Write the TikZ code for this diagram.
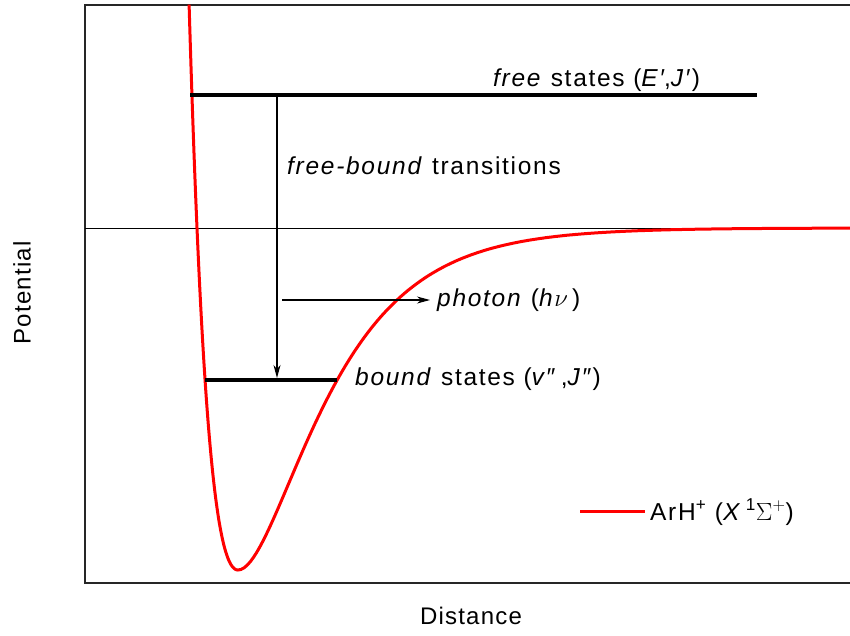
\documentclass[tikz,border=0pt]{standalone}
\usepackage{fontspec}
\setmainfont{Liberation Sans}
\usetikzlibrary{arrows.meta}
\begin{document}
\begin{tikzpicture}[x=1pt,y=-1pt,
  frame/.style={line width=1.6pt, draw=black!85},
  level/.style={line width=3.5pt},
  arr/.style={line width=1.1pt, -{Stealth[length=13pt,width=7pt,inset=4pt]}},
  curve/.style={red, line width=3pt},
  lbl/.style={font=\fontsize{24.5}{28}\addfontfeatures{LetterSpace=7}\selectfont, inner sep=0pt},
  axlbl/.style={font=\fontsize{24}{28}\addfontfeatures{LetterSpace=5}\selectfont, inner sep=0pt},
  declare function={mL(\t)=1-exp(-0.0169*(\t-238)); mR(\t)=1-exp(-0.0138*(\t-238));}]
\useasboundingbox (0,0) rectangle (850,635);
% frame
\coordinate (tr) at (850,5);
\coordinate (tl) at (85,5);
\coordinate (bl) at (85,583);
\coordinate (br) at (850,583);
\draw[frame] (tr) -- (tl) -- (bl) -- (br);
% zero line
\coordinate (z1) at (85,228);
\coordinate (z2) at (850,228);
\draw[line width=1pt] (z1) -- (z2);
% potential curve
\draw[curve, line join=round]
  plot[domain=189.1:238, samples=80] (\x, {228-342*(mL(\x)*mL(\x)-1)})
  -- plot[domain=238:850, samples=200] (\x, {228-342*(mR(\x)*mR(\x)-1)});
% levels
\coordinate (f1) at (190,95);
\coordinate (f2) at (757,95);
\draw[level] (f1) -- (f2);
\coordinate (b1) at (205,380);
\coordinate (b2) at (337,380);
\draw[level] (b1) -- (b2);
% arrows
\coordinate (a1) at (277,97);
\coordinate (a2) at (277,378);
\draw[arr] (a1) -- (a2);
\coordinate (p1) at (282,300);
\coordinate (p2) at (430,300);
\draw[arr] (p1) -- (p2);
% labels
\node[lbl, anchor=base west] (freetxt) at (493,86) {\textit{free} states (\textit{E′},\textit{J′})};
\node[lbl, anchor=base west] (trans) at (287,174) {\textit{free-bound} transitions};
\node[lbl, anchor=base west] (phot) at (437,306) {\textit{photon} (\textit{h}$\nu$\,)};
\node[lbl, anchor=base west] (bound) at (355,385) {\textit{bound} states (\textit{v″}\,,\textit{J″})};
% legend
\coordinate (lg1) at (580,511);
\coordinate (lg2) at (645,511);
\draw[curve] (lg1) -- (lg2);
\node[lbl, anchor=base west] (legtxt) at (650,520) {ArH\textsuperscript{+} (\textit{X}\,\textsuperscript{1}$\Sigma^{+}$)};
% axis labels
\node[axlbl, anchor=base] (xlab) at (471,624) {Distance};
\node[axlbl, rotate=90] (ylab) at (22,293) {Potential};
\end{tikzpicture}
\end{document}
